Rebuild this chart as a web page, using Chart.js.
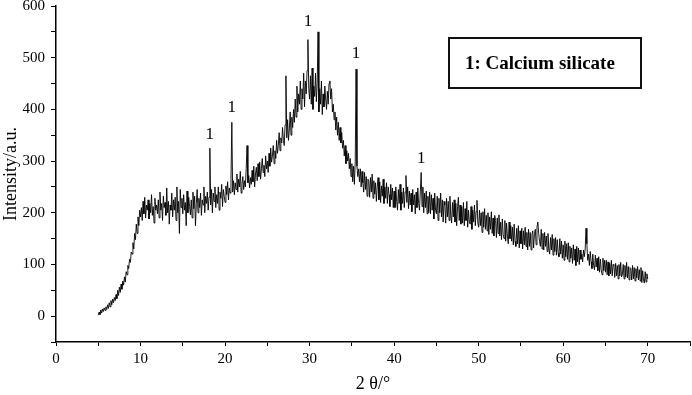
<!DOCTYPE html>
<html>
<head>
<meta charset="utf-8">
<script src="https://cdn.jsdelivr.net/npm/chart.js@4/dist/chart.umd.min.js"></script>
<style>
  html, body { margin: 0; padding: 0; background: #fff; }
  #wrap { width: 692px; height: 395px; position: relative; }
</style>
</head>
<body>
<div id="wrap"><canvas id="c"></canvas></div>
<script>
// ---- data ----
const X_START = 5.0;   // 2θ of first sample
const X_STEP = 0.1;    // 2θ step between samples
const intensity = [
  2, 8, 3, 12, 6, 14, 9, 16, 11, 18,
  13, 22, 15, 26, 18, 30, 22, 33, 26, 36,
  30, 42, 34, 50, 40, 56, 46, 62, 52, 68,
  60, 76, 66, 86, 80, 98, 92, 110, 104, 124,
  120, 142, 130, 160, 148, 178, 160, 192, 175, 205,
  192, 210, 185, 222, 198, 230, 190, 215, 205, 225,
  188, 218, 200, 235, 195, 212, 180, 228, 205, 215,
  198, 225, 190, 240, 205, 218, 185, 232, 210, 220,
  195, 248, 200, 222, 178, 215, 205, 238, 192, 225,
  205, 230, 185, 250, 200, 222, 160, 245, 210, 228,
  198, 235, 205, 220, 175, 242, 200, 230, 212, 196,
  225, 190, 240, 208, 232, 175, 218, 245, 200, 228,
  210, 238, 195, 225, 215, 250, 200, 232, 218, 240,
  205, 230, 325, 215, 245, 200, 238, 222, 250, 210,
  235, 218, 250, 205, 240, 228, 255, 212, 245, 232,
  220, 252, 235, 260, 225, 248, 238, 265, 375, 240,
  262, 235, 258, 245, 275, 240, 265, 250, 280, 238,
  255, 270, 245, 262, 250, 285, 330, 258, 272, 248,
  268, 255, 282, 260, 290, 250, 275, 288, 262, 295,
  270, 298, 265, 285, 305, 278, 292, 270, 310, 285,
  300, 278, 315, 290, 325, 298, 310, 330, 295, 320,
  305, 340, 315, 330, 355, 320, 345, 335, 365, 340,
  330, 370, 465, 345, 380, 340, 360, 395, 350, 385,
  365, 400, 375, 420, 385, 445, 395, 430, 410, 455,
  400, 440, 420, 470, 405, 455, 430, 475, 535, 440,
  420, 465, 410, 480, 400, 445, 425, 470, 415, 450,
  550, 395, 440, 410, 455, 390, 430, 405, 445, 420,
  400, 435, 410, 450, 455, 420, 440, 395, 410, 380,
  395, 360, 385, 350, 375, 340, 365, 335, 355, 325,
  340, 310, 330, 295, 320, 300, 315, 285, 305, 270,
  295, 260, 290, 255, 300, 478, 290, 270, 285, 260,
  285, 250, 280, 258, 240, 278, 245, 270, 232, 265,
  262, 230, 268, 240, 275, 228, 262, 236, 258, 222,
  250, 268, 225, 260, 220, 252, 232, 265, 218, 250,
  228, 258, 218, 250, 235, 212, 255, 225, 248, 210,
  242, 210, 250, 222, 205, 245, 218, 255, 205, 240,
  218, 248, 210, 240, 272, 220, 250, 208, 242, 215,
  238, 202, 245, 215, 235, 198, 240, 210, 248, 218,
  205, 242, 278, 212, 250, 200, 238, 210, 242, 198,
  232, 200, 240, 198, 235, 205, 228, 188, 238, 205,
  198, 232, 185, 228, 200, 238, 192, 225, 182, 222,
  215, 180, 228, 192, 222, 185, 232, 195, 180, 220,
  192, 225, 182, 218, 175, 212, 230, 185, 215, 178,
  212, 180, 220, 175, 208, 185, 222, 172, 205, 182,
  178, 212, 168, 205, 182, 215, 175, 202, 224, 180,
  172, 205, 175, 200, 162, 202, 172, 208, 168, 195,
  165, 200, 158, 192, 168, 202, 160, 190, 155, 195,
  185, 152, 190, 160, 196, 155, 182, 148, 188, 158,
  150, 185, 145, 180, 155, 140, 182, 150, 175, 145,
  172, 138, 178, 145, 135, 170, 140, 175, 132, 165,
  140, 170, 130, 165, 138, 172, 135, 162, 128, 168,
  135, 162, 128, 158, 165, 132, 160, 168, 138, 172,
  182, 160, 145, 135, 168, 130, 160, 128, 162, 135,
  155, 125, 160, 130, 120, 152, 128, 158, 118, 150,
  125, 152, 118, 148, 122, 115, 150, 120, 145, 112,
  138, 108, 145, 115, 140, 110, 142, 105, 135, 112,
  132, 102, 138, 108, 130, 98, 135, 105, 132, 100,
  128, 110, 120, 105, 128, 115, 130, 170, 140, 108,
  120, 98, 125, 105, 92, 120, 98, 90, 118, 95,
  112, 88, 115, 85, 110, 90, 80, 112, 88, 108,
  85, 108, 80, 105, 78, 102, 82, 108, 78, 100,
  98, 75, 102, 78, 98, 72, 100, 78, 104, 76,
  80, 100, 72, 98, 76, 104, 74, 96, 70, 94,
  92, 70, 98, 72, 94, 68, 92, 74, 96, 70,
  90, 68, 94, 65, 88, 70, 64, 86, 66, 82,
  72
];
// peak markers "1" (2θ, intensity at which the label sits)
const markX = [18.2, 20.8, 29.8, 35.5, 43.2];
const markY = [352, 404, 569, 509, 304];
const markText = ['1', '1', '1', '1', '1'];
const legendText = '1: Calcium silicate';
const xTitle = '2 θ/°';
const yTitle = 'Intensity/a.u.';

const points = intensity.map((v, i) => ({ x: +(X_START + i * X_STEP).toFixed(2), y: v }));

const SERIF = '"Liberation Serif", "Times New Roman", serif';

const annotPlugin = {
  id: 'annot',
  afterDatasetsDraw(chart) {
    const { ctx, scales: { x, y }, chartArea } = chart;
    ctx.save();
    ctx.fillStyle = '#000';
    ctx.font = '17px ' + SERIF;
    ctx.textAlign = 'center';
    ctx.textBaseline = 'middle';
    markX.forEach((mx, i) => {
      ctx.fillText(markText[i], x.getPixelForValue(mx), y.getPixelForValue(markY[i]));
    });
    // legend box
    const bx = chartArea.left + 393;
    const by = chartArea.top + 32;
    const bw = 192, bh = 50;
    ctx.lineWidth = 2;
    ctx.strokeStyle = '#111';
    ctx.strokeRect(bx, by, bw, bh);
    ctx.font = 'bold 19px ' + SERIF;
    ctx.textAlign = 'left';
    ctx.fillText(legendText, bx + 16, by + bh / 2 + 1);
    ctx.restore();
  }
};

new Chart(document.getElementById('c'), {
  type: 'line',
  data: {
    datasets: [{
      data: points,
      borderColor: '#000',
      borderWidth: 0.9,
      pointRadius: 0,
      tension: 0,
      fill: false
    }]
  },
  options: {
    responsive: true,
    maintainAspectRatio: false,
    animation: false,
    layout: { padding: { top: 6, right: 2, left: 0, bottom: 0 } },
    plugins: { legend: { display: false }, tooltip: { enabled: false } },
    scales: {
      x: {
        type: 'linear',
        min: 0, max: 75,
        afterFit: (s) => { s.height = 53; s.paddingLeft = 0; s.paddingRight = 0; },
        ticks: {
          stepSize: 5,
          autoSkip: false,
          maxRotation: 0,
          padding: 4,
          color: '#000',
          font: { family: SERIF, size: 15 },
          callback: (v) => (v % 10 === 0 ? String(v) : '')
        },
        grid: { drawOnChartArea: false, drawTicks: true, tickLength: 4, color: '#000', lineWidth: 1 },
        border: { display: true, color: '#000', width: 1.5 },
        title: { display: true, text: xTitle, color: '#000', font: { family: SERIF, size: 18 }, padding: { top: 0, bottom: 0 } }
      },
      y: {
        min: -50, max: 600,
        afterFit: (s) => { s.width = 56; s.paddingTop = 0; s.paddingBottom = 0; },
        ticks: {
          stepSize: 50,
          autoSkip: false,
          padding: 6,
          color: '#000',
          font: { family: SERIF, size: 15 },
          callback: (v) => (v % 100 === 0 && v >= 0 ? String(v) : '')
        },
        grid: { drawOnChartArea: false, drawTicks: true, tickLength: 5, color: '#000', lineWidth: 1 },
        border: { display: true, color: '#000', width: 1.5 },
        title: { display: true, text: yTitle, color: '#000', font: { family: SERIF, size: 18 }, padding: { top: 0, bottom: 0 } }
      }
    }
  },
  plugins: [annotPlugin]
});
</script>
</body>
</html>
